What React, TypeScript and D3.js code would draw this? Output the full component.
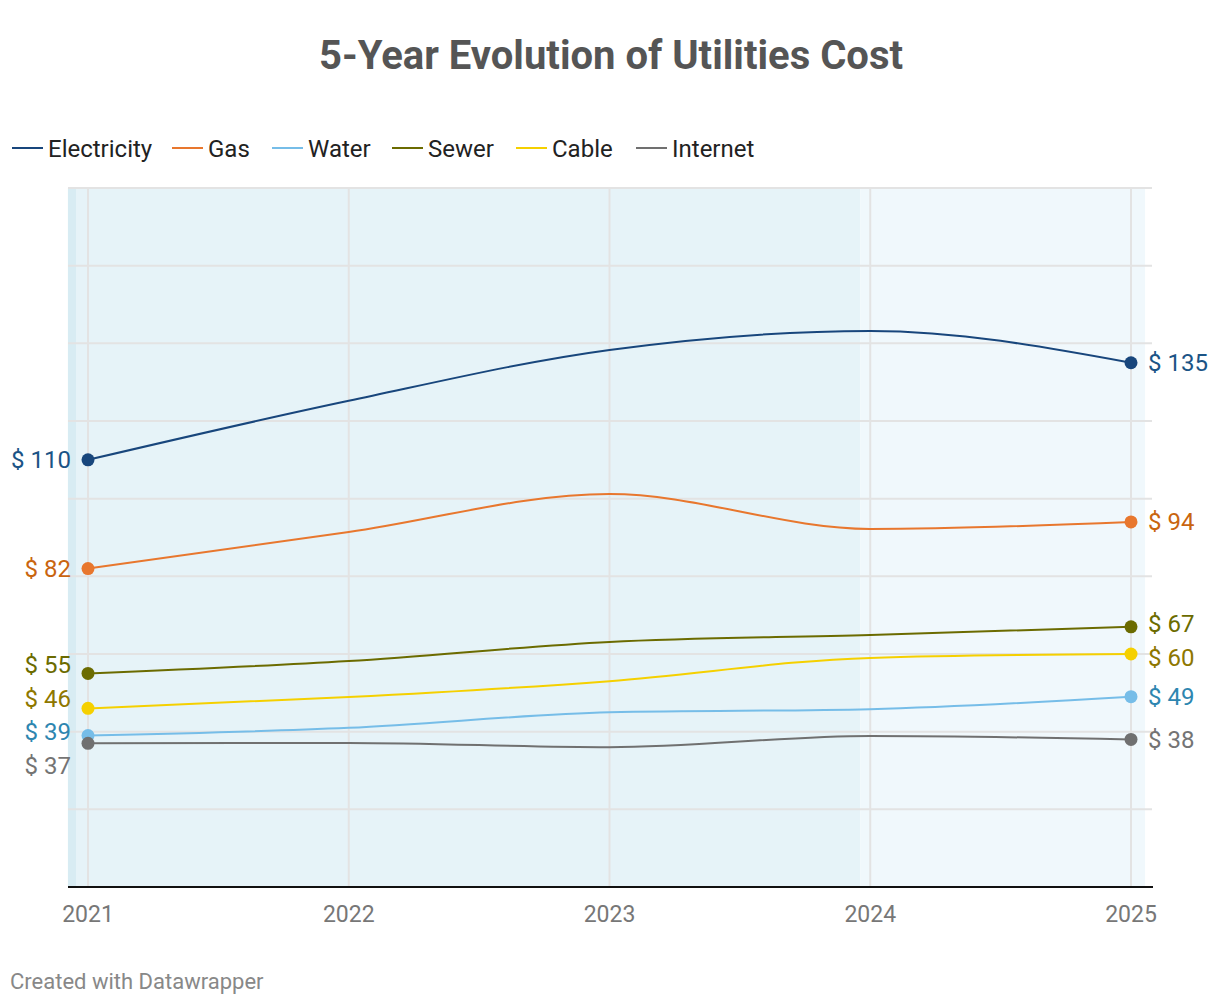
import { useMemo } from 'react';
import * as d3 from 'd3';

const YEARS = [2021, 2022, 2023, 2024, 2025];

const SERIES_NAMES = ['Electricity', 'Gas', 'Water', 'Sewer', 'Cable', 'Internet'];
const ELECTRICITY = [110, 125.2, 138.3, 143.2, 135];
const GAS = [82, 91.4, 101.2, 92.2, 94];
const WATER = [39, 41, 45, 45.8, 49];
const SEWER = [55, 58.2, 63.1, 64.9, 67];
const CABLE = [46, 48.9, 53, 59, 60];
const INTERNET = [37, 37.1, 36, 38.9, 38];

const LINE_COLORS = ['#18467c', '#e8772e', '#76bde8', '#6b6b00', '#f5d000', '#707070'];
const LABEL_COLORS = ['#1b5486', '#c9650f', '#2e86b0', '#6b6b00', '#8e7700', '#747474'];

const Y_TICKS = [0, 20, 40, 60, 80, 100, 120, 140, 160, 180];

// shaded ranges, in year units
const BANDS = [
  { from: 2020.923, to: 2020.954, fill: '#d8ecf3' },
  { from: 2020.954, to: 2023.962, fill: '#e6f3f8' },
  { from: 2023.962, to: 2025.054, fill: '#f0f8fc' },
];

const LEGEND_X = [12, 172, 272, 392, 516, 636];

const FONT = 'Roboto, "Noto Sans", sans-serif';

// push overlapping labels apart, keeping each cluster centred on its points
function spreadLabels(ys: number[], gap: number) {
  const order = ys.map((y, i) => ({ y, i })).sort((a, b) => a.y - b.y);
  let clusters = order.map((o) => ({ items: [o], top: o.y }));
  let merged = true;
  while (merged) {
    merged = false;
    for (let k = 0; k < clusters.length - 1; k++) {
      const a = clusters[k];
      const b = clusters[k + 1];
      if (a.top + (a.items.length - 1) * gap + gap > b.top) {
        const items = [...a.items, ...b.items];
        const mean = d3.mean(items, (d) => d.y)!;
        const top = mean - ((items.length - 1) * gap) / 2;
        clusters.splice(k, 2, { items, top });
        merged = true;
        break;
      }
    }
  }
  const out = new Array(ys.length);
  clusters.forEach((c) => c.items.forEach((it, j) => (out[it.i] = c.top + j * gap)));
  return out as number[];
}

export default function App() {
  const width = 1220;
  const height = 1004;
  const allSeries = [ELECTRICITY, GAS, WATER, SEWER, CABLE, INTERNET];

  const x = d3.scaleLinear().domain([2021, 2025]).range([88, 1131]);
  const y = d3.scaleLinear().domain([0, 180]).range([887, 188]);

  const line = d3
    .line<number>()
    .x((_, i) => x(YEARS[i]))
    .y((d) => y(d))
    .curve(d3.curveMonotoneX);

  const leftYs = useMemo(() => spreadLabels(allSeries.map((s) => y(s[0])), 33.5), []);
  const rightYs = useMemo(
    () => spreadLabels(allSeries.map((s) => y(s[s.length - 1])), 33.5),
    []
  );

  const gridLeft = 68;
  const gridRight = 1152;

  return (
    <svg
      width={width}
      height={height}
      style={{ position: 'absolute', left: 0, top: 0, background: '#fff' }}
      fontFamily={FONT}
    >
      <text x={611} y={69} textAnchor="middle" fontSize={40} fontWeight={700} fill="#555">
        5-Year Evolution of Utilities Cost
      </text>

      {SERIES_NAMES.map((name, i) => (
        <g key={name} transform={`translate(${LEGEND_X[i]},148)`}>
          <line x1={0} x2={31} y1={0} y2={0} stroke={LINE_COLORS[i]} strokeWidth={2} />
          <text x={36} y={8.5} fontSize={24} fill="#222">
            {name}
          </text>
        </g>
      ))}

      {BANDS.map((b, i) => (
        <rect
          key={i}
          x={x(b.from)}
          y={y(180)}
          width={x(b.to) - x(b.from)}
          height={y(0) - y(180)}
          fill={b.fill}
        />
      ))}

      {Y_TICKS.filter((t) => t > 0).map((t) => (
        <line key={t} x1={gridLeft} x2={gridRight} y1={y(t)} y2={y(t)} stroke="#e3e3e3" strokeWidth={2} />
      ))}
      {YEARS.map((yr) => (
        <line key={yr} x1={x(yr)} x2={x(yr)} y1={y(180)} y2={y(0)} stroke="#e3e3e3" strokeWidth={2} />
      ))}

      <line x1={gridLeft} x2={gridRight + 1} y1={y(0)} y2={y(0)} stroke="#111" strokeWidth={2} />

      {YEARS.map((yr) => (
        <text key={yr} x={x(yr)} y={922} textAnchor="middle" fontSize={23} fill="#777">
          {yr}
        </text>
      ))}

      {allSeries.map((s, i) => (
        <path key={i} d={line(s)!} fill="none" stroke={LINE_COLORS[i]} strokeWidth={2} />
      ))}

      {allSeries.map((s, i) => (
        <g key={i}>
          <circle cx={x(YEARS[0])} cy={y(s[0])} r={6.5} fill={LINE_COLORS[i]} />
          <circle cx={x(YEARS[YEARS.length - 1])} cy={y(s[s.length - 1])} r={6.5} fill={LINE_COLORS[i]} />
          <text
            x={71}
            y={leftYs[i]}
            dy="0.35em"
            textAnchor="end"
            fontSize={24}
            fill={LABEL_COLORS[i]}
          >
            {`$ ${s[0]}`}
          </text>
          <text x={1148} y={rightYs[i]} dy="0.35em" fontSize={24} fill={LABEL_COLORS[i]}>
            {`$ ${s[s.length - 1]}`}
          </text>
        </g>
      ))}

      <text x={10} y={989} fontSize={22} fill="#888">
        Created with Datawrapper
      </text>
    </svg>
  );
}
